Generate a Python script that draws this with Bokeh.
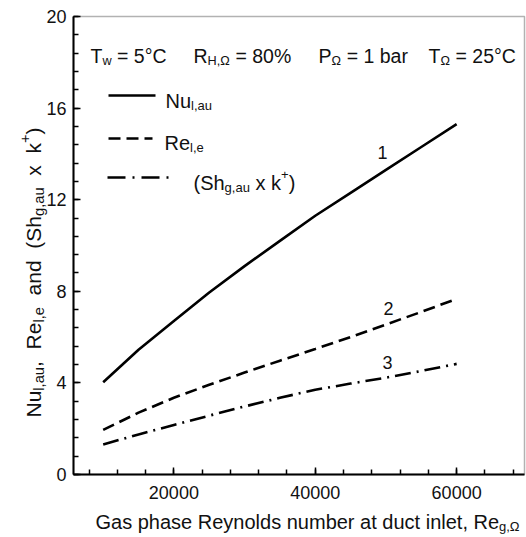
import math
from bokeh.plotting import figure
from bokeh.models import Label, FixedTicker, BoxAnnotation
from bokeh.embed import file_html
from bokeh.resources import INLINE

# ---- data ----
re_gas = [10000, 15000, 20000, 25000, 30000, 35000, 40000, 45000, 50000, 55000, 60000]
nu_l_au = [4.03, 5.45, 6.70, 7.95, 9.10, 10.20, 11.30, 12.30, 13.30, 14.30, 15.30]
re_l_e = [1.95, 2.70, 3.35, 3.92, 4.45, 4.97, 5.48, 6.00, 6.55, 7.10, 7.67]
sh_k = [1.31, 1.75, 2.16, 2.57, 2.97, 3.35, 3.70, 3.97, 4.23, 4.52, 4.83]
x_ticks = [20000, 40000, 60000]
x_minor = [8000 + 4000 * i for i in range(16)]
y_ticks = [0, 4, 8, 12, 16, 20]
y_minor = [round(0.8 * i, 2) for i in range(26)]

# ---- geometry ----
W, H = 526, 537
FL, FR, FT, FB = 73, 524, 16, 474          # plot box in page pixels
X0, X1 = 5800, 69600                       # data values at the box edges
Y0, Y1 = 0, 20
UX = (X1 - X0) / (FR - FL)
UY = (Y1 - Y0) / (FB - FT)
XR0, XR1 = X0 - FL * UX, X1 + (W - FR) * UX
YR0, YR1 = Y0 - (H - FB) * UY, Y1 + FT * UY
FONT = "Liberation Sans"
NB = "\u00a0"


def dx(px):
    return XR0 + px * UX


def dy(py):
    return YR1 - py * UY


AW = {' ': 278, NB: 278, '!': 278, '(': 333, ')': 333, '+': 584, ',': 278, '-': 333,
      '.': 278, '=': 584, '%': 889, '°': 400, 'Ω': 768}
for c in '0123456789':
    AW[c] = 556
AW.update(dict(zip('ABCDEFGHIJKLMNOPQRSTUVWXYZ',
                   [667, 667, 722, 722, 667, 611, 778, 722, 278, 500, 667, 556, 833, 722,
                    778, 667, 778, 722, 667, 611, 722, 667, 944, 667, 667, 611])))
AW.update(dict(zip('abcdefghijklmnopqrstuvwxyz',
                   [556, 556, 500, 556, 556, 278, 556, 556, 222, 222, 500, 222, 833, 556,
                    556, 556, 556, 333, 500, 278, 556, 500, 722, 500, 500, 500])))


def tw(s):
    return sum(AW.get(c, 556) for c in s) / 1000.0


p = figure(width=W, height=H, x_range=(XR0, XR1), y_range=(YR0, YR1),
           output_backend="svg", toolbar_location=None,
           min_border_left=0, min_border_right=0, min_border_top=0, min_border_bottom=0)
p.grid.visible = False
p.outline_line_color = None
p.background_fill_color = "white"
p.border_fill_color = "white"

for ax in (p.xaxis[0], p.yaxis[0]):
    ax.axis_line_width = 2
    ax.axis_line_color = "black"
    ax.major_tick_in = 7
    ax.major_tick_out = 0
    ax.minor_tick_in = 5
    ax.minor_tick_out = 0
    ax.major_tick_line_width = 1.5
    ax.minor_tick_line_width = 1.5
    ax.major_label_text_font = FONT
    ax.major_label_text_font_size = "18px"
    ax.major_label_text_color = "#111111"
p.xaxis.ticker = FixedTicker(ticks=x_ticks, minor_ticks=x_minor)
p.yaxis.ticker = FixedTicker(ticks=y_ticks, minor_ticks=y_minor)
p.xaxis.fixed_location = Y0
p.yaxis.fixed_location = X0
p.xaxis.bounds = (X0, X1)
p.yaxis.bounds = (Y0, Y1)
p.xaxis.major_label_standoff = 11
p.yaxis.major_label_standoff = 7
p.xaxis.formatter.use_scientific = False

# plot box (top and right edges)
p.add_layout(BoxAnnotation(left=X0, right=X1, bottom=Y0, top=Y1, fill_alpha=0,
                           line_color="black", line_width=1.5))

# ---- curves ----
p.line(re_gas, nu_l_au, line_color="black", line_width=2.6)
p.line(re_gas, re_l_e, line_color="black", line_width=2.6, line_dash="12 6")
p.line(re_gas, sh_k, line_color="black", line_width=2.6, line_dash="16 6 2 6")

# ---- legend samples ----
p.line([dx(108), dx(155)], [dy(95), dy(95)], line_color="black", line_width=2.6)
p.line([dx(108), dx(152)], [dy(138), dy(138)], line_color="black", line_width=2.6,
       line_dash="12 6")
p.line([dx(107), dx(170)], [dy(177), dy(177)], line_color="black", line_width=2.6,
       line_dash="18 7 2 7")


def rich(px, py, segs, size, angle=0.0, sub=0.65, space=1):
    off = 0.0
    for txt, kind in segs:
        txt = txt.replace(" ", NB * space)
        fs = size if kind == 'n' else size * sub
        shift = {'n': 0.0, 'sub': -0.26 * size, 'sup': 0.42 * size}[kind]
        if angle == 0.0:
            lab = Label(x=dx(px), y=dy(py), x_offset=off, y_offset=shift, text=txt)
        else:
            lab = Label(x=dx(px), y=dy(py), x_offset=-shift, y_offset=off, text=txt,
                        angle=angle)
        lab.text_font = FONT
        lab.text_font_size = f"{fs:.1f}px"
        lab.text_baseline = "alphabetic"
        lab.text_align = "left"
        lab.text_color = "#111111"
        p.add_layout(lab)
        off += tw(txt) * fs


# header
rich(90, 55, [("T", 'n'), ("w", 'sub'), (" = 5°C", 'n')], 19.5)
rich(193, 55, [("R", 'n'), ("H,Ω", 'sub'), (" = 80%", 'n')], 19.5)
rich(318, 55, [("P", 'n'), ("Ω", 'sub'), (" = 1 bar", 'n')], 19.5)
rich(428, 55, [("T", 'n'), ("Ω", 'sub'), (" = 25°C", 'n')], 19.5)

# legend labels
rich(165, 100, [("Nu", 'n'), ("l,au", 'sub')], 20)
rich(164, 142, [("Re", 'n'), ("l,e", 'sub')], 20)
rich(193, 182, [("(Sh", 'n'), ("g,au", 'sub'), (" x k", 'n'), ("+", 'sup'), (")", 'n')], 20)

# curve numbers
for num, (cx, cy) in zip(["1", "2", "3"], [(382, 152), (388, 308), (387, 362)]):
    p.add_layout(Label(x=dx(cx), y=dy(cy), text=num, text_font=FONT,
                       text_font_size="18px", text_align="center",
                       text_baseline="middle", text_color="#111111"))

# axis titles
rich(95, 521, [("Gas phase Reynolds number at duct inlet, Re", 'n'), ("g,Ω", 'sub')], 20)
rich(33, 417, [("Nu", 'n'), ("l,au", 'sub'), (", Re", 'n'), ("l,e", 'sub'),
               (" and (Sh", 'n'), ("g,au", 'sub'), (" x k", 'n'), ("+", 'sup'),
               (")", 'n')], 21, angle=math.pi / 2, sub=0.7, space=2)

open("out.html", "w").write(file_html(p, INLINE))
